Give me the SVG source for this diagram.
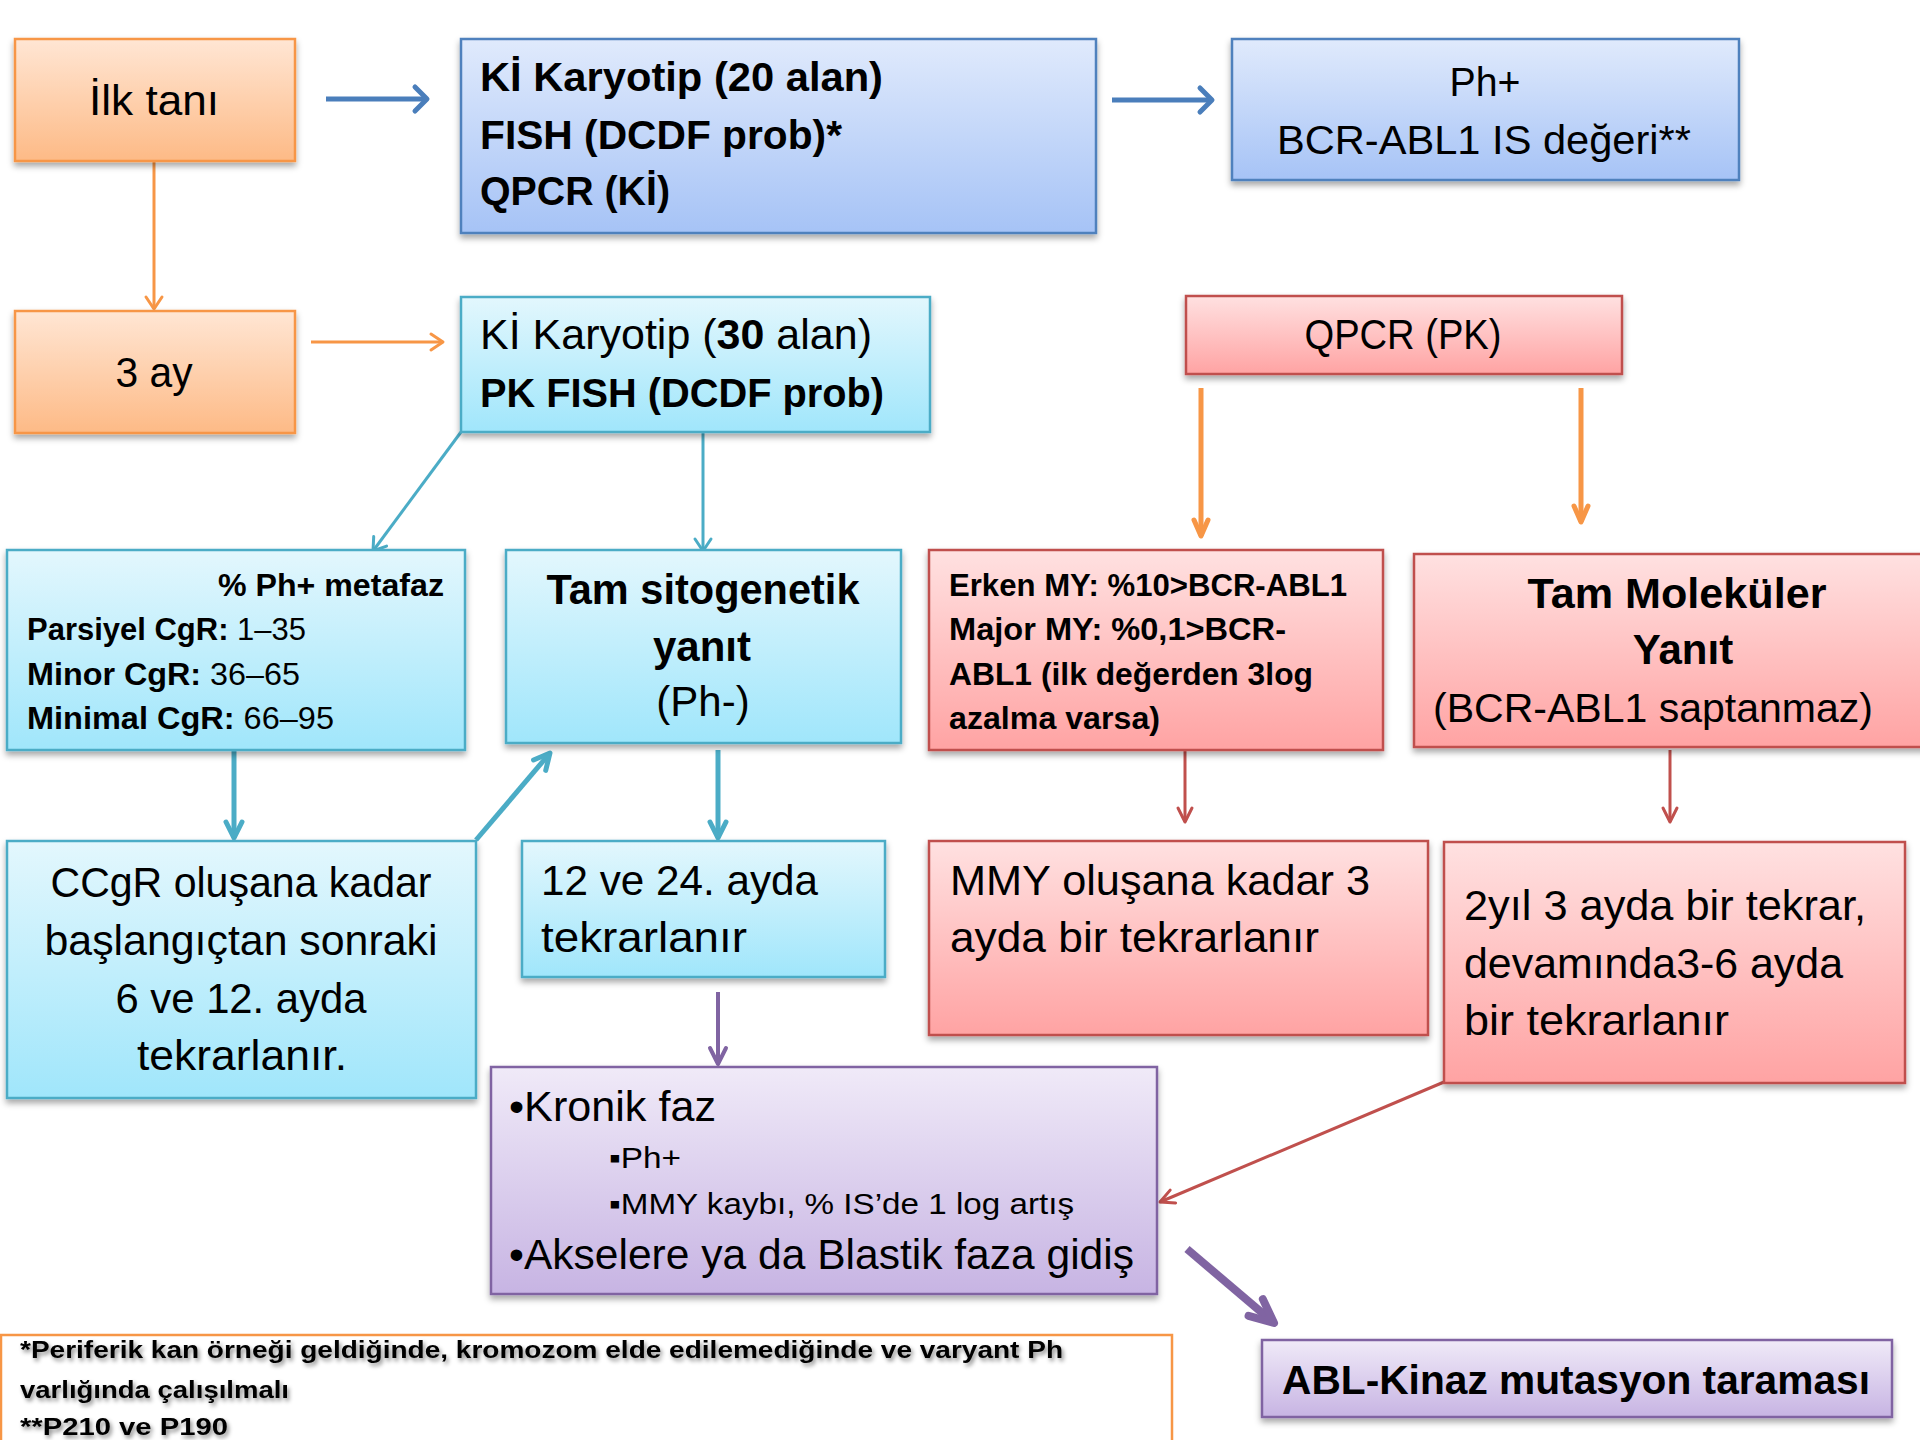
<svg xmlns="http://www.w3.org/2000/svg" width="1920" height="1440" viewBox="0 0 1920 1440">
<defs>
<linearGradient id="gOrange" x1="0" y1="0" x2="0" y2="1"><stop offset="0" stop-color="#FFE6D4"/><stop offset="1" stop-color="#FDBA86"/></linearGradient>
<linearGradient id="gBlue" x1="0" y1="0" x2="0" y2="1"><stop offset="0" stop-color="#E0EAFC"/><stop offset="1" stop-color="#A6C3F6"/></linearGradient>
<linearGradient id="gCyan" x1="0" y1="0" x2="0" y2="1"><stop offset="0" stop-color="#E3F7FD"/><stop offset="1" stop-color="#A0E6FB"/></linearGradient>
<linearGradient id="gRed" x1="0" y1="0" x2="0" y2="1"><stop offset="0" stop-color="#FFE1E1"/><stop offset="1" stop-color="#FFA3A3"/></linearGradient>
<linearGradient id="gPurple" x1="0" y1="0" x2="0" y2="1"><stop offset="0" stop-color="#F0EAF8"/><stop offset="1" stop-color="#C7B4E3"/></linearGradient>
<filter id="sh" x="-5%" y="-5%" width="110%" height="120%"><feDropShadow dx="0" dy="4" stdDeviation="3" flood-color="#000" flood-opacity="0.35"/></filter>
<filter id="tsh" x="-5%" y="-30%" width="110%" height="160%"><feDropShadow dx="2" dy="3" stdDeviation="2" flood-color="#000" flood-opacity="0.45"/></filter>
<marker id="aBlue" markerUnits="userSpaceOnUse" viewBox="-20 -16 24 32" markerWidth="24" markerHeight="32" refX="0" refY="0" orient="auto" overflow="visible"><path d="M-12,-12 L0,0 L-12,12" fill="none" stroke="#4A7EBB" stroke-width="5" stroke-linecap="round" stroke-linejoin="round"/></marker>
<marker id="aOrange" markerUnits="userSpaceOnUse" viewBox="-20 -16 24 32" markerWidth="24" markerHeight="32" refX="0" refY="0" orient="auto" overflow="visible"><path d="M-12,-8 L0,0 L-12,8" fill="none" stroke="#F79646" stroke-width="3" stroke-linecap="round" stroke-linejoin="round"/></marker>
<marker id="aOrangeT" markerUnits="userSpaceOnUse" viewBox="-20 -16 24 32" markerWidth="24" markerHeight="32" refX="0" refY="0" orient="auto" overflow="visible"><path d="M-16,-7 L0,0 L-16,7" fill="none" stroke="#F79646" stroke-width="5" stroke-linecap="round" stroke-linejoin="round"/></marker>
<marker id="aCyan" markerUnits="userSpaceOnUse" viewBox="-20 -16 24 32" markerWidth="24" markerHeight="32" refX="0" refY="0" orient="auto" overflow="visible"><path d="M-12,-8 L0,0 L-12,8" fill="none" stroke="#4BACC6" stroke-width="3" stroke-linecap="round" stroke-linejoin="round"/></marker>
<marker id="aCyanT" markerUnits="userSpaceOnUse" viewBox="-20 -16 24 32" markerWidth="24" markerHeight="32" refX="0" refY="0" orient="auto" overflow="visible"><path d="M-16,-8 L0,0 L-16,8" fill="none" stroke="#4BACC6" stroke-width="5" stroke-linecap="round" stroke-linejoin="round"/></marker>
<marker id="aRed" markerUnits="userSpaceOnUse" viewBox="-20 -16 24 32" markerWidth="24" markerHeight="32" refX="0" refY="0" orient="auto" overflow="visible"><path d="M-14,-7 L0,0 L-14,7" fill="none" stroke="#C0504D" stroke-width="3" stroke-linecap="round" stroke-linejoin="round"/></marker>
<marker id="aPurple" markerUnits="userSpaceOnUse" viewBox="-20 -16 24 32" markerWidth="24" markerHeight="32" refX="0" refY="0" orient="auto" overflow="visible"><path d="M-16,-8 L0,0 L-16,8" fill="none" stroke="#8064A2" stroke-width="4" stroke-linecap="round" stroke-linejoin="round"/></marker>
<marker id="aPurpleT" markerUnits="userSpaceOnUse" viewBox="-30 -20 34 40" markerWidth="34" markerHeight="40" refX="0" refY="0" orient="auto" overflow="visible"><path d="M-24,-11 L0,0 L-24,11" fill="none" stroke="#8064A2" stroke-width="8" stroke-linecap="round" stroke-linejoin="round"/></marker>
</defs>
<style>
text{font-family:"Liberation Sans",Arial,sans-serif;fill:#000;}
.r{font-weight:normal;}
.b{font-weight:bold;}
.c{text-anchor:middle;}
.e{text-anchor:end;}
.box{filter:url(#sh);stroke-width:2.5;}
.or{fill:url(#gOrange);stroke:#F79646;}
.bl{fill:url(#gBlue);stroke:#4F81BD;}
.cy{fill:url(#gCyan);stroke:#4BACC6;}
.rd{fill:url(#gRed);stroke:#C0504D;}
.pu{fill:url(#gPurple);stroke:#8064A2;}
.f42{font-size:42px;}
.f41{font-size:41px;}
.f31{font-size:31px;}
.f30{font-size:30px;}
.f24{font-size:24px;}
.con{fill:none;}
</style>
<rect width="1920" height="1440" fill="#fff"/>
<g id="connectors" class="con">
<path d="M326,99 L427,99" stroke="#4A7EBB" stroke-width="5" marker-end="url(#aBlue)"/>
<path d="M1112,100 L1212,100" stroke="#4A7EBB" stroke-width="5" marker-end="url(#aBlue)"/>
<path d="M154,161 L154,309" stroke="#F79646" stroke-width="3" marker-end="url(#aOrange)"/>
<path d="M311,342 L443,342" stroke="#F79646" stroke-width="3" marker-end="url(#aOrange)"/>
<path d="M461,432 L373,551" stroke="#4BACC6" stroke-width="3" marker-end="url(#aCyan)"/>
<path d="M703,432 L703,551" stroke="#4BACC6" stroke-width="3" marker-end="url(#aCyan)"/>
<path d="M1201,388 L1201,536" stroke="#F79646" stroke-width="5" marker-end="url(#aOrangeT)"/>
<path d="M1581,388 L1581,522" stroke="#F79646" stroke-width="5" marker-end="url(#aOrangeT)"/>
<path d="M234,751 L234,838" stroke="#4BACC6" stroke-width="5" marker-end="url(#aCyanT)"/>
<path d="M476,840 L550,753" stroke="#4BACC6" stroke-width="5" marker-end="url(#aCyanT)"/>
<path d="M718,750 L718,838" stroke="#4BACC6" stroke-width="5" marker-end="url(#aCyanT)"/>
<path d="M1185,750 L1185,822" stroke="#C0504D" stroke-width="3" marker-end="url(#aRed)"/>
<path d="M1670,750 L1670,822" stroke="#C0504D" stroke-width="3" marker-end="url(#aRed)"/>
<path d="M718,992 L718,1064" stroke="#8064A2" stroke-width="4" marker-end="url(#aPurple)"/>
<path d="M1444,1082 L1160,1202" stroke="#C0504D" stroke-width="3" marker-end="url(#aRed)"/>
<path d="M1187,1249 L1274,1323" stroke="#8064A2" stroke-width="8" marker-end="url(#aPurpleT)"/>
</g>
<g id="n-ilk">
<rect class="box or" x="15" y="39" width="280" height="122"/>
<text class="r c f42" x="154" y="115" textLength="130" lengthAdjust="spacingAndGlyphs">İlk tanı</text>
</g>
<g id="n-k1">
<rect class="box bl" x="461" y="39" width="635" height="194"/>
<text class="b f41" x="480" y="91" textLength="403" lengthAdjust="spacingAndGlyphs">Kİ Karyotip (20 alan)</text>
<text class="b f41" x="480" y="149" textLength="362" lengthAdjust="spacingAndGlyphs">FISH (DCDF prob)*</text>
<text class="b f41" x="480" y="205" textLength="190" lengthAdjust="spacingAndGlyphs">QPCR (Kİ)</text>
</g>
<g id="n-ph">
<rect class="box bl" x="1232" y="39" width="507" height="141"/>
<text class="r c f41" x="1485" y="96" textLength="71" lengthAdjust="spacingAndGlyphs">Ph+</text>
<text class="r c f41" x="1484" y="154" textLength="414" lengthAdjust="spacingAndGlyphs">BCR-ABL1 IS değeri**</text>
</g>
<g id="n-3ay">
<rect class="box or" x="15" y="311" width="280" height="122"/>
<text class="r c f42" x="154" y="387" textLength="77" lengthAdjust="spacingAndGlyphs">3 ay</text>
</g>
<g id="n-k2">
<rect class="box cy" x="461" y="297" width="469" height="135"/>
<text class="r f42" x="480" y="349" textLength="392" lengthAdjust="spacingAndGlyphs">Kİ Karyotip (<tspan class="b">30</tspan> alan)</text>
<text class="b f41" x="480" y="407" textLength="404" lengthAdjust="spacingAndGlyphs">PK FISH (DCDF prob)</text>
</g>
<g id="n-qpcr">
<rect class="box rd" x="1186" y="296" width="436" height="78"/>
<text class="r c f42" x="1403" y="349" textLength="197" lengthAdjust="spacingAndGlyphs">QPCR (PK)</text>
</g>
<g id="n-cgr">
<rect class="box cy" x="7" y="550" width="458" height="200"/>
<text class="b e f31" x="444" y="596" textLength="226" lengthAdjust="spacingAndGlyphs">% Ph+ metafaz</text>
<text class="f31" x="27" y="640" textLength="279" lengthAdjust="spacingAndGlyphs"><tspan class="b">Parsiyel CgR:</tspan> 1–35</text>
<text class="f31" x="27" y="685" textLength="273" lengthAdjust="spacingAndGlyphs"><tspan class="b">Minor CgR:</tspan> 36–65</text>
<text class="f31" x="27" y="729" textLength="307" lengthAdjust="spacingAndGlyphs"><tspan class="b">Minimal CgR:</tspan> 66–95</text>
</g>
<g id="n-tsy">
<rect class="box cy" x="506" y="550" width="395" height="193"/>
<text class="b c f42" x="703" y="604" textLength="313" lengthAdjust="spacingAndGlyphs">Tam sitogenetik</text>
<text class="b c f42" x="702" y="661">yanıt</text>
<text class="r c f42" x="703" y="716">(Ph-)</text>
</g>
<g id="n-erken">
<rect class="box rd" x="929" y="550" width="454" height="200"/>
<text class="b f31" x="949" y="596" textLength="398" lengthAdjust="spacingAndGlyphs">Erken MY: %10&gt;BCR-ABL1</text>
<text class="b f31" x="949" y="640" textLength="337" lengthAdjust="spacingAndGlyphs">Major MY: %0,1&gt;BCR-</text>
<text class="b f31" x="949" y="685" textLength="364" lengthAdjust="spacingAndGlyphs">ABL1 (ilk değerden 3log</text>
<text class="b f31" x="949" y="729" textLength="211" lengthAdjust="spacingAndGlyphs">azalma varsa)</text>
</g>
<g id="n-tmy">
<rect class="box rd" x="1414" y="554" width="520" height="193"/>
<text class="b c f42" x="1677" y="608" textLength="299" lengthAdjust="spacingAndGlyphs">Tam Moleküler</text>
<text class="b c f42" x="1683" y="664">Yanıt</text>
<text class="r c f41" x="1653" y="722" textLength="440" lengthAdjust="spacingAndGlyphs">(BCR-ABL1 saptanmaz)</text>
</g>
<g id="n-ccgr">
<rect class="box cy" x="7" y="841" width="469" height="257"/>
<text class="r c f42" x="241" y="897" textLength="381" lengthAdjust="spacingAndGlyphs">CCgR oluşana kadar</text>
<text class="r c f42" x="241" y="955" textLength="393" lengthAdjust="spacingAndGlyphs">başlangıçtan sonraki</text>
<text class="r c f42" x="241" y="1013" textLength="251" lengthAdjust="spacingAndGlyphs">6 ve 12. ayda</text>
<text class="r c f42" x="242" y="1070" textLength="210" lengthAdjust="spacingAndGlyphs">tekrarlanır.</text>
</g>
<g id="n-12">
<rect class="box cy" x="522" y="841" width="363" height="136"/>
<text class="r f42" x="541" y="895" textLength="277" lengthAdjust="spacingAndGlyphs">12 ve 24. ayda</text>
<text class="r f42" x="541" y="952" textLength="206" lengthAdjust="spacingAndGlyphs">tekrarlanır</text>
</g>
<g id="n-mmy">
<rect class="box rd" x="929" y="841" width="499" height="194"/>
<text class="r f42" x="950" y="895" textLength="420" lengthAdjust="spacingAndGlyphs">MMY oluşana kadar 3</text>
<text class="r f42" x="950" y="952" textLength="369" lengthAdjust="spacingAndGlyphs">ayda bir tekrarlanır</text>
</g>
<g id="n-2yil">
<rect class="box rd" x="1444" y="842" width="461" height="241"/>
<text class="r f42" x="1464" y="920" textLength="402" lengthAdjust="spacingAndGlyphs">2yıl 3 ayda bir tekrar,</text>
<text class="r f42" x="1464" y="978" textLength="379" lengthAdjust="spacingAndGlyphs">devamında3-6 ayda</text>
<text class="r f42" x="1464" y="1035" textLength="265" lengthAdjust="spacingAndGlyphs">bir tekrarlanır</text>
</g>
<g id="n-kronik">
<rect class="box pu" x="491" y="1067" width="666" height="227"/>
<text class="r f42" x="509" y="1121" textLength="207" lengthAdjust="spacingAndGlyphs">•Kronik faz</text>
<text class="r f30" x="609" y="1168" textLength="72" lengthAdjust="spacingAndGlyphs">▪Ph+</text>
<text class="r f30" x="609" y="1214" textLength="465" lengthAdjust="spacingAndGlyphs">▪MMY kaybı, % IS’de 1 log artış</text>
<text class="r f42" x="509" y="1269" textLength="625" lengthAdjust="spacingAndGlyphs">•Akselere ya da Blastik faza gidiş</text>
</g>
<g id="n-foot">
<rect x="1" y="1335" width="1171" height="115" fill="#fff" stroke="#F79646" stroke-width="2.5"/>
<g filter="url(#tsh)">
<text class="b f24" x="20" y="1358" textLength="1043" lengthAdjust="spacingAndGlyphs">*Periferik kan örneği geldiğinde, kromozom elde edilemediğinde ve varyant Ph</text>
<text class="b f24" x="20" y="1398" textLength="269" lengthAdjust="spacingAndGlyphs">varlığında çalışılmalı</text>
<text class="b f24" x="20" y="1435" textLength="208" lengthAdjust="spacingAndGlyphs">**P210 ve P190</text>
</g>
</g>
<g id="n-abl">
<rect class="box pu" x="1262" y="1340" width="630" height="77"/>
<text class="b c f41" x="1576" y="1394" textLength="588" lengthAdjust="spacingAndGlyphs">ABL-Kinaz mutasyon taraması</text>
</g>
</svg>
